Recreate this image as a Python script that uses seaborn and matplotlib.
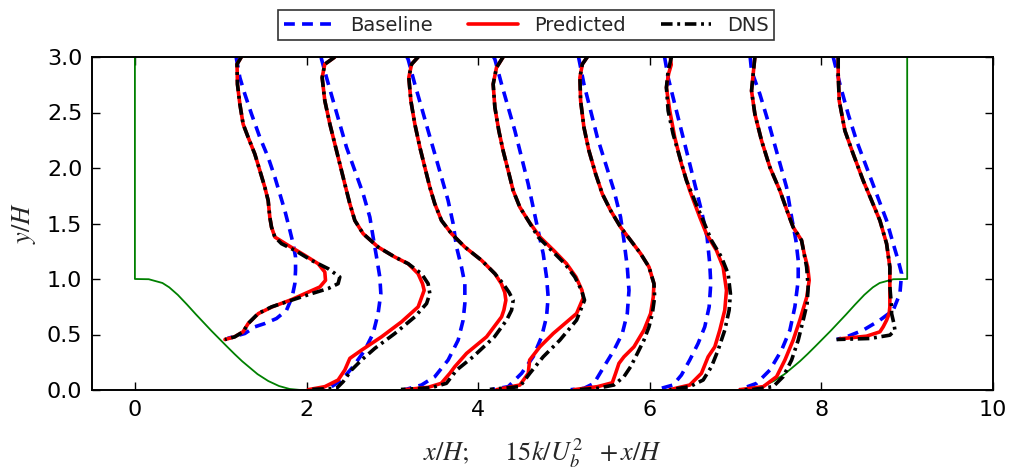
import matplotlib
matplotlib.use("Agg")
import matplotlib.pyplot as plt
import pandas as pd
import seaborn as sns

# ---------------- data ----------------
stations = [1, 2, 3, 4, 5, 6, 7, 8]
legend_labels = ["Baseline", "Predicted", "DNS"]
x_ticks = [0, 2, 4, 6, 8, 10]
y_ticks = [0.0, 0.5, 1.0, 1.5, 2.0, 2.5, 3.0]

# hill geometry (x/H, y/H), left hill; right hill is its mirror about x/H = 9
hill_x = [0.0, 0.161, 0.321, 0.4, 0.5, 0.607, 0.714, 0.893, 1.071, 1.161, 1.25, 1.429, 1.554, 1.679, 1.804, 1.929]
hill_y = [1.0, 0.998, 0.964, 0.925, 0.857, 0.770, 0.679, 0.532, 0.393, 0.324, 0.259, 0.143, 0.081, 0.036, 0.009, 0.0]
domain_length = 9.0
domain_height = 3.0

# profiles: (y/H, 15k/Ub^2)
baseline_1 = [(3.0, 0.18), (2.98, 0.184), (2.815, 0.223), (2.666, 0.281), (2.486, 0.359), (2.276, 0.456), (2.096, 0.553), (1.917, 0.631), (1.767, 0.689), (1.617, 0.747), (1.438, 0.806), (1.318, 0.844), (1.198, 0.872), (1.078, 0.872), (0.958, 0.864), (0.838, 0.832), (0.719, 0.767), (0.644, 0.650), (0.599, 0.514), (0.569, 0.397), (0.509, 0.281), (0.465, 0.08)]
predicted_1 = [(3.0, 0.24), (2.935, 0.19), (2.755, 0.195), (2.576, 0.223), (2.396, 0.261), (2.276, 0.32), (2.127, 0.397), (1.977, 0.456), (1.827, 0.514), (1.707, 0.553), (1.557, 0.572), (1.467, 0.592), (1.378, 0.631), (1.303, 0.786), (1.213, 0.98), (1.138, 1.135), (1.063, 1.213), (0.988, 1.221), (0.928, 1.155), (0.868, 0.98), (0.814, 0.825), (0.749, 0.60), (0.689, 0.44), (0.599, 0.32), (0.524, 0.26), (0.479, 0.16), (0.455, 0.05)]
dns_1 = [(3.0, 0.24), (2.935, 0.19), (2.755, 0.195), (2.576, 0.223), (2.396, 0.261), (2.276, 0.32), (2.127, 0.397), (1.977, 0.456), (1.827, 0.514), (1.707, 0.553), (1.557, 0.572), (1.467, 0.592), (1.378, 0.631), (1.318, 0.709), (1.258, 0.864), (1.168, 1.058), (1.093, 1.252), (1.018, 1.388), (0.958, 1.368), (0.914, 1.252), (0.868, 1.058), (0.809, 0.825), (0.749, 0.592), (0.689, 0.436), (0.599, 0.32), (0.524, 0.261), (0.479, 0.164), (0.455, 0.05)]

baseline_2 = [(3.0, 0.17), (2.98, 0.175), (2.815, 0.233), (2.606, 0.310), (2.396, 0.388), (2.186, 0.466), (1.977, 0.563), (1.767, 0.660), (1.557, 0.738), (1.378, 0.776), (1.198, 0.816), (1.018, 0.854), (0.868, 0.866), (0.689, 0.834), (0.509, 0.776), (0.359, 0.679), (0.210, 0.543), (0.090, 0.408), (0.030, 0.291), (0.003, 0.135)]
predicted_2 = [(3.0, 0.33), (2.935, 0.213), (2.815, 0.182), (2.606, 0.213), (2.396, 0.272), (2.216, 0.330), (2.037, 0.388), (1.857, 0.446), (1.677, 0.505), (1.527, 0.563), (1.408, 0.660), (1.288, 0.834), (1.198, 1.029), (1.138, 1.184), (1.048, 1.300), (0.958, 1.352), (0.898, 1.371), (0.749, 1.301), (0.614, 1.107), (0.479, 0.874), (0.359, 0.641), (0.285, 0.505), (0.180, 0.446), (0.090, 0.368), (0.030, 0.213), (0.003, 0.02)]
dns_2 = [(3.0, 0.33), (2.935, 0.213), (2.815, 0.182), (2.606, 0.213), (2.396, 0.272), (2.216, 0.330), (2.037, 0.388), (1.857, 0.446), (1.677, 0.505), (1.527, 0.563), (1.408, 0.660), (1.288, 0.834), (1.198, 1.029), (1.138, 1.184), (1.048, 1.340), (0.958, 1.417), (0.868, 1.437), (0.779, 1.399), (0.659, 1.262), (0.509, 1.029), (0.375, 0.796), (0.270, 0.641), (0.180, 0.524), (0.075, 0.427), (0.015, 0.350), (0.005, 0.05)]

baseline_3 = [(3.0, 0.17), (2.98, 0.184), (2.755, 0.262), (2.546, 0.340), (2.336, 0.417), (2.127, 0.495), (1.917, 0.573), (1.707, 0.650), (1.497, 0.709), (1.288, 0.748), (1.108, 0.806), (0.958, 0.845), (0.779, 0.845), (0.629, 0.825), (0.449, 0.767), (0.270, 0.650), (0.120, 0.495), (0.045, 0.340), (0.003, 0.146)]
predicted_3 = [(3.0, 0.301), (2.935, 0.224), (2.815, 0.192), (2.606, 0.216), (2.396, 0.262), (2.186, 0.321), (2.006, 0.379), (1.827, 0.437), (1.677, 0.495), (1.527, 0.573), (1.408, 0.690), (1.288, 0.845), (1.168, 1.040), (1.048, 1.195), (0.958, 1.27), (0.88, 1.31), (0.809, 1.323), (0.72, 1.30), (0.659, 1.273), (0.479, 1.098), (0.33, 0.865), (0.21, 0.728), (0.15, 0.67), (0.06, 0.57), (0.024, 0.417), (0.003, 0.146)]
dns_3 = [(3.0, 0.301), (2.935, 0.224), (2.815, 0.192), (2.606, 0.216), (2.396, 0.262), (2.186, 0.321), (2.006, 0.379), (1.827, 0.437), (1.677, 0.495), (1.527, 0.573), (1.408, 0.690), (1.288, 0.845), (1.168, 1.040), (1.048, 1.195), (0.958, 1.291), (0.88, 1.36), (0.809, 1.408), (0.72, 1.39), (0.629, 1.331), (0.479, 1.19), (0.30, 0.942), (0.18, 0.75), (0.06, 0.63), (0.02, 0.45), (0.005, 0.1)]

baseline_4 = [(3.0, 0.18), (2.98, 0.195), (2.755, 0.273), (2.546, 0.350), (2.336, 0.428), (2.096, 0.506), (1.857, 0.583), (1.647, 0.641), (1.438, 0.699), (1.228, 0.758), (1.018, 0.797), (0.838, 0.816), (0.659, 0.797), (0.479, 0.739), (0.299, 0.641), (0.150, 0.506), (0.030, 0.350), (0.003, 0.15)]
predicted_4 = [(3.0, 0.291), (2.905, 0.214), (2.755, 0.175), (2.546, 0.195), (2.336, 0.241), (2.156, 0.291), (1.977, 0.350), (1.797, 0.408), (1.647, 0.486), (1.527, 0.583), (1.378, 0.72), (1.258, 0.88), (1.138, 1.03), (1.018, 1.14), (0.898, 1.21), (0.83, 1.225), (0.689, 1.147), (0.509, 0.875), (0.389, 0.719), (0.27, 0.60), (0.15, 0.584), (0.045, 0.486), (0.003, 0.214)]
dns_4 = [(3.0, 0.291), (2.905, 0.214), (2.755, 0.175), (2.546, 0.195), (2.336, 0.241), (2.156, 0.291), (1.977, 0.350), (1.797, 0.408), (1.647, 0.486), (1.527, 0.583), (1.378, 0.699), (1.258, 0.855), (1.138, 1.010), (1.018, 1.127), (0.898, 1.205), (0.809, 1.24), (0.629, 1.147), (0.449, 0.952), (0.299, 0.758), (0.15, 0.602), (0.03, 0.486), (0.005, 0.136)]

baseline_5 = [(3.0, 0.17), (2.98, 0.175), (2.755, 0.233), (2.516, 0.311), (2.276, 0.389), (2.037, 0.486), (1.797, 0.583), (1.557, 0.660), (1.348, 0.699), (1.108, 0.738), (0.898, 0.758), (0.689, 0.738), (0.509, 0.680), (0.359, 0.583), (0.210, 0.466), (0.060, 0.350), (0.015, 0.233), (0.003, 0.078)]
predicted_5 = [(3.0, 0.272), (2.935, 0.214), (2.815, 0.186), (2.606, 0.194), (2.366, 0.233), (2.156, 0.291), (1.947, 0.369), (1.767, 0.447), (1.617, 0.544), (1.467, 0.660), (1.348, 0.777), (1.228, 0.894), (1.108, 0.991), (0.958, 1.049), (0.838, 1.041), (0.689, 1.010), (0.539, 0.932), (0.389, 0.816), (0.299, 0.699), (0.240, 0.641), (0.150, 0.602), (0.065, 0.563), (0.030, 0.389), (0.003, 0.117)]
dns_5 = [(3.0, 0.272), (2.935, 0.214), (2.815, 0.186), (2.606, 0.194), (2.366, 0.233), (2.156, 0.291), (1.947, 0.369), (1.767, 0.447), (1.617, 0.544), (1.467, 0.660), (1.348, 0.777), (1.228, 0.894), (1.108, 0.991), (0.958, 1.049), (0.838, 1.057), (0.689, 1.030), (0.569, 0.991), (0.449, 0.932), (0.329, 0.855), (0.210, 0.777), (0.120, 0.699), (0.045, 0.583), (0.015, 0.389), (0.003, 0.155)]

baseline_6 = [(3.0, 0.17), (2.99, 0.175), (2.815, 0.214), (2.576, 0.291), (2.336, 0.369), (2.096, 0.447), (1.857, 0.524), (1.617, 0.602), (1.378, 0.668), (1.138, 0.699), (0.958, 0.711), (0.749, 0.692), (0.569, 0.641), (0.419, 0.563), (0.270, 0.466), (0.135, 0.369), (0.045, 0.272), (0.003, 0.078)]
predicted_6 = [(3.0, 0.24), (2.93, 0.25), (2.85, 0.22), (2.725, 0.194), (2.516, 0.233), (2.276, 0.291), (2.037, 0.369), (1.797, 0.466), (1.557, 0.583), (1.408, 0.660), (1.258, 0.777), (1.108, 0.855), (0.898, 0.894), (0.719, 0.874), (0.539, 0.816), (0.389, 0.758), (0.299, 0.680), (0.150, 0.602), (0.045, 0.466), (0.003, 0.233)]
dns_6 = [(3.0, 0.253), (2.875, 0.214), (2.725, 0.194), (2.516, 0.214), (2.306, 0.272), (2.096, 0.350), (1.887, 0.427), (1.707, 0.524), (1.527, 0.622), (1.348, 0.719), (1.198, 0.835), (1.048, 0.913), (0.868, 0.940), (0.719, 0.925), (0.539, 0.874), (0.359, 0.796), (0.210, 0.719), (0.090, 0.622), (0.030, 0.466), (0.003, 0.233)]

baseline_7 = [(3.0, 0.17), (2.875, 0.186), (2.666, 0.283), (2.366, 0.400), (2.096, 0.497), (1.827, 0.594), (1.557, 0.653), (1.348, 0.703), (1.168, 0.730), (0.988, 0.730), (0.749, 0.691), (0.539, 0.633), (0.359, 0.536), (0.180, 0.400), (0.060, 0.245), (0.005, 0.05)]
predicted_7 = [(3.0, 0.225), (2.845, 0.205), (2.695, 0.186), (2.486, 0.225), (2.246, 0.303), (2.006, 0.400), (1.797, 0.516), (1.587, 0.613), (1.467, 0.671), (1.348, 0.769), (1.228, 0.80), (1.108, 0.84), (0.988, 0.858), (0.838, 0.83), (0.629, 0.749), (0.449, 0.671), (0.270, 0.575), (0.120, 0.478), (0.030, 0.322), (0.003, 0.05)]
dns_7 = [(3.0, 0.225), (2.845, 0.205), (2.695, 0.186), (2.486, 0.225), (2.246, 0.303), (2.006, 0.400), (1.797, 0.516), (1.587, 0.613), (1.467, 0.671), (1.348, 0.769), (1.108, 0.828), (0.928, 0.846), (0.779, 0.834), (0.629, 0.788), (0.449, 0.730), (0.270, 0.653), (0.120, 0.555), (0.030, 0.438), (0.005, 0.205), (0.001, 0.05)]

baseline_8 = [(3.0, 0.138), (2.755, 0.216), (2.486, 0.312), (2.246, 0.410), (2.006, 0.527), (1.767, 0.643), (1.527, 0.760), (1.318, 0.837), (1.168, 0.895), (1.048, 0.935), (0.868, 0.915), (0.719, 0.837), (0.629, 0.682), (0.539, 0.487), (0.479, 0.294), (0.455, 0.177)]
predicted_8 = [(3.0, 0.196), (2.845, 0.196), (2.606, 0.208), (2.336, 0.274), (2.126, 0.371), (1.887, 0.487), (1.707, 0.585), (1.527, 0.682), (1.318, 0.760), (1.108, 0.798), (0.928, 0.798), (0.749, 0.798), (0.689, 0.79), (0.629, 0.760), (0.569, 0.720), (0.524, 0.682), (0.485, 0.527), (0.461, 0.216)]
dns_8 = [(3.0, 0.196), (2.845, 0.196), (2.606, 0.208), (2.336, 0.274), (2.126, 0.371), (1.887, 0.487), (1.707, 0.585), (1.527, 0.682), (1.318, 0.760), (1.108, 0.798), (0.928, 0.798), (0.749, 0.818), (0.689, 0.818), (0.599, 0.845), (0.539, 0.857), (0.494, 0.798), (0.464, 0.565), (0.455, 0.177)]

baseline_profiles = [baseline_1, baseline_2, baseline_3, baseline_4, baseline_5, baseline_6, baseline_7, baseline_8]
predicted_profiles = [predicted_1, predicted_2, predicted_3, predicted_4, predicted_5, predicted_6, predicted_7, predicted_8]
dns_profiles = [dns_1, dns_2, dns_3, dns_4, dns_5, dns_6, dns_7, dns_8]

# ---------------- style ----------------
sns.set_theme(style="ticks")
plt.rcParams["font.family"] = ["DejaVu Sans"]
plt.rcParams["mathtext.fontset"] = "stix"
plt.rcParams["lines.scale_dashes"] = True

fig = plt.figure(figsize=(10.14, 4.75), dpi=100)
ax = fig.add_axes([92 / 1014, 85 / 475, 901 / 1014, 333 / 475])

# hill outline
outline_x = [0.0] + hill_x + [domain_length - v for v in reversed(hill_x)] + [domain_length]
outline_y = [domain_height] + hill_y + list(reversed(hill_y)) + [domain_height]
geo = pd.DataFrame({"x": outline_x, "y": outline_y})
sns.lineplot(data=geo, x="x", y="y", sort=False, estimator=None, color="#008000",
             lw=1.3, ax=ax, legend=False)

styles = [
    (baseline_profiles, dict(color="#0000ff", lw=2.6, dashes=(3.0, 2.0)), legend_labels[0]),
    (predicted_profiles, dict(color="#ff0000", lw=2.6, linestyle="-"), legend_labels[1]),
    (dns_profiles, dict(color="black", lw=2.6, dashes=(3.2, 1.3, 0.8, 1.3)), legend_labels[2]),
]
handles = []
for profiles, kw, lab in styles:
    for i, (st, prof) in enumerate(zip(stations, profiles)):
        df = pd.DataFrame(prof, columns=["y", "k"])
        df["x"] = df["k"] + st
        sns.lineplot(data=df, x="x", y="y", sort=False, estimator=None, ax=ax,
                     legend=False, label=lab if i == 0 else None, **kw)
    handles.append(ax.get_lines()[-1])

ax.set_xlim(-0.5, 10)
ax.set_ylim(0, 3)
ax.set_xticks(x_ticks)
ax.set_yticks(y_ticks)
ax.set_xticklabels([str(t) for t in x_ticks])
ax.set_yticklabels([f"{t:.1f}" for t in y_ticks])
ax.tick_params(direction="in", top=True, right=True, length=6, width=1,
               labelsize=16, pad=7, colors="black")
for s in ax.spines.values():
    s.set_visible(True)
    s.set_linewidth(1.4)
    s.set_color("black")

ax.set_xlabel(r"$x/H;\quad\ \ \mathit{15k}/U_b^2\ \ + x/H$", fontsize=19, labelpad=12)
ax.set_ylabel(r"$y/H$", fontsize=19, labelpad=6)

leg = fig.legend(handles, legend_labels, loc="upper center", ncol=3,
                 bbox_to_anchor=(0.519, 1.0), fontsize=14, frameon=True,
                 fancybox=False, edgecolor="black", handlelength=2.6,
                 columnspacing=1.8, borderpad=0.3, handletextpad=0.8)
leg.get_frame().set_linewidth(1.2)

fig.savefig("out.png", dpi=100)
